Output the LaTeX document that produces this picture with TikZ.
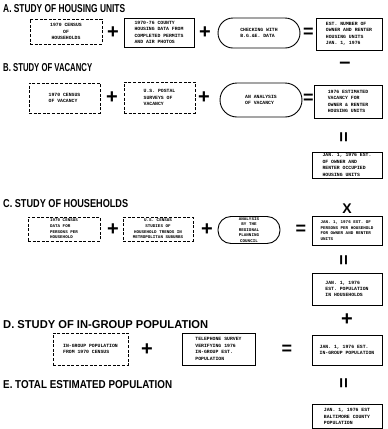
\documentclass[tikz,border=0pt]{standalone}
\usepackage{fontspec}
\setmainfont{Liberation Sans}
\newfontfamily\boxfont{Liberation Mono}
\usepackage{graphicx}
\tikzset{
  box/.style={draw, line width=0.9pt, inner sep=0.5pt, align=left,
    font=\boxfont\bfseries\fontsize{4.8}{6.4}\selectfont},
  small/.style={font=\boxfont\bfseries\fontsize{4.2}{5.6}\selectfont},
  dbox/.style={box, dashed, dash pattern=on 3pt off 1.6pt, line width=1pt},
  rbox/.style={box},
  opsym/.style={font=\bfseries\fontsize{20}{20}\selectfont, inner sep=0pt},
  eqsym/.style={font=\bfseries\fontsize{18}{18}\selectfont, inner sep=0pt},
  xsym/.style={font=\bfseries\fontsize{14}{14}\selectfont, inner sep=0pt},
  head/.style={anchor=west, inner sep=0pt}
}
\newcommand{\hd}[2]{\resizebox{#1pt}{8pt}{\bfseries #2}}
\begin{document}
\begin{tikzpicture}[x=1pt,y=-1pt]
\useasboundingbox (0,0) rectangle (388,429);

% ---------- A ----------
\node[head] (hA) at (3,9) {\hd{122}{A. STUDY OF HOUSING UNITS}};
\node[dbox, align=center, minimum width=72pt, minimum height=25pt] (a1) at (66,31.5) {1970 CENSUS\\OF\\HOUSEHOLDS};
\node[opsym] (pa1) at (113,33) {+};
\node[box, minimum width=70pt, minimum height=29pt] (a2) at (159,32.5) {1970-76 COUNTY\\HOUSING DATA FROM\\COMPLETED PERMITS\\AND AIR PHOTOS};
\node[opsym] (pa2) at (205,33) {+};
\node[rbox, rounded corners=15pt, minimum width=82pt, minimum height=30pt] (a3) at (259,33) {CHECKING WITH\\B.G.\&E. DATA};
\node[eqsym] (ea) at (308.5,33) {=};
\node[box, minimum width=66pt, minimum height=32pt] (a4) at (349,34) {EST. NUMBER OF\\OWNER AND RENTER\\HOUSING UNITS\\JAN. 1, 1976};
\node[opsym] (ma) at (345,65) {\textendash};

% ---------- B ----------
\node[head] (hB) at (3,68) {\hd{89}{B. STUDY OF VACANCY}};
\node[dbox, minimum width=71pt, minimum height=30pt] (b1) at (64.5,98) {1970 CENSUS\\OF VACANCY};
\node[opsym] (pb1) at (112,98) {+};
\node[dbox, minimum width=71pt, minimum height=31pt] (b2) at (159.5,97.5) {U.S. POSTAL\\SURVEYS OF\\VACANCY};
\node[opsym] (pb2) at (204,98) {+};
\node[rbox, rounded corners=17pt, minimum width=82pt, minimum height=34pt] (b3) at (261,100) {AN ANALYSIS\\OF VACANCY};
\node[eqsym] (eb) at (308.5,99) {=};
\node[box, minimum width=68pt, minimum height=33pt] (b4) at (348,101.5) {1976 ESTIMATED\\VACANCY FOR\\OWNER \& RENTER\\HOUSING UNITS};
\node[eqsym, rotate=90] (vb) at (345,137) {=};
\node[box, minimum width=70pt, minimum height=26pt] (b5) at (347,165) {JAN. 1, 1976 EST.\\OF OWNER AND\\RENTER OCCUPIED\\HOUSING UNITS};
\node[xsym] (xb) at (347,209) {X};

% ---------- C ----------
\node[head] (hC) at (3,204) {\hd{125}{C. STUDY OF HOUSEHOLDS}};
\node[dbox, small, minimum width=72pt, minimum height=24pt] (c1) at (64,229) {1970 CENSUS\\DATA FOR\\PERSONS PER\\HOUSEHOLD};
\node[opsym] (pc1) at (113,230) {+};
\node[dbox, small, align=center, minimum width=70pt, minimum height=24pt] (c2) at (158,229) {U.S. CENSUS\\STUDIES OF\\HOUSEHOLD TRENDS IN\\METROPOLITAN SUBURBS};
\node[opsym] (pc2) at (207,230) {+};
\node[rbox, small, align=center, rounded corners=13pt, minimum width=62pt, minimum height=27pt] (c3) at (249,230) {ANALYSIS\\BY THE\\REGIONAL\\PLANNING\\COUNCIL};
\node[eqsym] (ec) at (301,230) {=};
\node[box, small, minimum width=70pt, minimum height=29pt] (c4) at (347,230.5) {JAN. 1, 1976 EST. OF\\PERSONS PER HOUSEHOLD\\FOR OWNER AND RENTER\\UNITS};
\node[eqsym, rotate=90] (vc) at (345,260) {=};
\node[box, minimum width=70pt, minimum height=32pt] (c5) at (347,289) {JAN. 1, 1976\\EST. POPULATION\\IN HOUSEHOLDS};
\node[opsym] (pc3) at (347,320) {+};

% ---------- D ----------
\node[head] (hD) at (3,325) {\hd{205}{D. STUDY OF IN-GROUP POPULATION}};
\node[dbox, minimum width=75pt, minimum height=32pt] (d1) at (90.5,349) {IN-GROUP POPULATION\\FROM 1970 CENSUS};
\node[opsym] (pd1) at (147,350) {+};
\node[box, minimum width=73pt, minimum height=32pt] (d2) at (218.5,349) {TELEPHONE SURVEY\\VERIFYING 1976\\IN-GROUP EST.\\POPULATION};
\node[eqsym] (ed) at (287,350) {=};
\node[box, minimum width=70pt, minimum height=30pt] (d3) at (347,350) {JAN. 1, 1976 EST.\\IN-GROUP POPULATION};
\node[eqsym, rotate=90] (vd) at (345,383) {=};

% ---------- E ----------
\node[head] (hE) at (3,385) {\hd{169}{E. TOTAL ESTIMATED POPULATION}};
\node[box, minimum width=70pt, minimum height=24pt] (e1) at (347,416.5) {JAN. 1, 1976 EST\\BALTIMORE COUNTY\\POPULATION};
\end{tikzpicture}
\end{document}
